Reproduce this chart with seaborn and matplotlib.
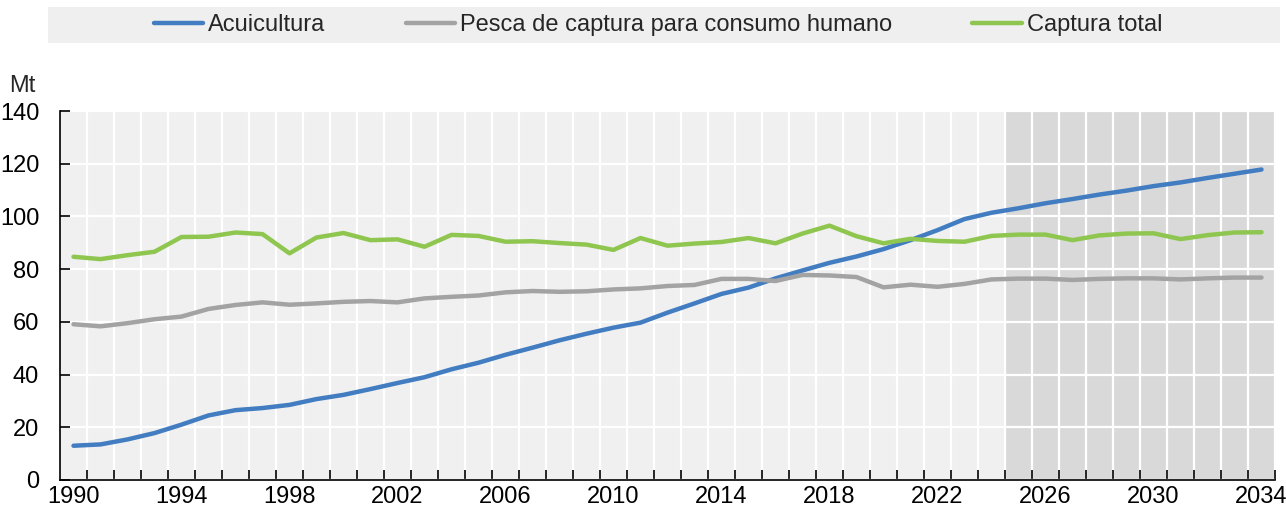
import numpy as np
import pandas as pd
import matplotlib
matplotlib.use("Agg")
import matplotlib.pyplot as plt
from matplotlib.patches import Rectangle
from matplotlib.ticker import MultipleLocator
import seaborn as sns

years = list(range(1990, 2035))

acuicultura = [13.0, 13.5, 15.4, 17.8, 21.0, 24.5, 26.5, 27.3, 28.5, 30.7,
               32.3, 34.5, 36.8, 39.0, 42.0, 44.5, 47.5, 50.2, 53.0, 55.5,
               57.8, 59.7, 63.5, 67.0, 70.6, 73.0, 76.5, 79.5, 82.4, 84.8,
               87.6, 91.0, 94.8, 99.0, 101.4, 103.1, 105.0, 106.6, 108.3, 109.8,
               111.5, 112.9, 114.6, 116.2, 117.8]

pesca_consumo = [59.1, 58.3, 59.5, 61.0, 62.0, 64.9, 66.4, 67.4, 66.5, 67.0,
                 67.6, 67.9, 67.4, 68.9, 69.5, 70.0, 71.2, 71.7, 71.4, 71.6,
                 72.3, 72.7, 73.6, 74.0, 76.3, 76.3, 75.5, 77.8, 77.6, 77.0,
                 73.1, 74.1, 73.3, 74.4, 76.1, 76.4, 76.4, 75.9, 76.3, 76.5,
                 76.5, 76.1, 76.5, 76.8, 76.8]

captura_total = [84.7, 83.8, 85.3, 86.6, 92.2, 92.3, 93.9, 93.3, 86.0, 92.0,
                 93.7, 91.0, 91.3, 88.5, 93.0, 92.6, 90.4, 90.6, 89.9, 89.3,
                 87.3, 91.8, 88.9, 89.7, 90.3, 91.8, 89.8, 93.5, 96.5, 92.5,
                 89.8, 91.5, 90.7, 90.4, 92.6, 93.1, 93.1, 91.0, 92.8, 93.5,
                 93.6, 91.4, 92.9, 93.9, 94.0]

series_names = ["Acuicultura", "Pesca de captura para consumo humano", "Captura total"]
series_colors = ["#427cc1", "#a3a3a3", "#8fc650"]

df = pd.DataFrame({"Año": years * 3,
                   "Mt": acuicultura + pesca_consumo + captura_total,
                   "Serie": np.repeat(series_names, len(years))})

sns.set_theme(style="white")
plt.rcParams["font.family"] = ["Liberation Sans", "DejaVu Sans"]
FS = 17

fig = plt.figure(figsize=(12.86, 5.11), dpi=100)
ax = fig.add_axes([60 / 1286, 1 - 480 / 511, 1215 / 1286, 369 / 511])
ax.set_facecolor("#f0f0f0")

# projection period shading
ax.axvspan(2024.5, 2034.5, color="#d9d9d9", lw=0, zorder=0.2)

sns.lineplot(data=df, x="Año", y="Mt", hue="Serie", hue_order=series_names,
             palette=series_colors, linewidth=3.2, ax=ax, legend=False, zorder=3)

ax.set_xlim(1989.5, 2034.5)
ax.set_ylim(0, 140)
ax.yaxis.set_major_locator(MultipleLocator(20))
ax.set_xticks(years[::4])
ax.set_xticks(np.arange(1990.5, 2034.6, 1), minor=True)
ax.tick_params(axis="x", which="major", length=0, pad=4, labelsize=FS, colors="black")
ax.tick_params(axis="x", which="minor", direction="in", length=7, width=1.2,
               color="black", bottom=True)
ax.tick_params(axis="y", which="major", direction="in", length=7, width=1.2,
               left=True, pad=15, labelsize=FS, colors="black")
ax.set_xlabel("")
ax.set_ylabel("")

ax.set_axisbelow(True)
ax.grid(False)
ax.yaxis.grid(True, which="major", color="white", linewidth=1.6)
ax.xaxis.grid(True, which="minor", color="white", linewidth=1.6)

for side in ["top", "right"]:
    ax.spines[side].set_visible(False)
for side in ["left", "bottom"]:
    ax.spines[side].set_color("black")
    ax.spines[side].set_linewidth(1.2)

fig.text(9 / 1286, 1 - 86 / 511, "Mt", fontsize=FS, va="center", ha="left")

# legend band
fig.patches.append(Rectangle((48 / 1286, 1 - 43 / 511), 1232 / 1286, 36 / 511,
                             transform=fig.transFigure, facecolor="#efefef",
                             edgecolor="none", zorder=0))
handles = [plt.Line2D([], [], color=c, lw=3.2) for c in series_colors]
fig.legend(handles, series_names, loc="center", ncol=3, frameon=False,
           bbox_to_anchor=(658 / 1286, 1 - 25 / 511), fontsize=FS,
           handlelength=2.1, handletextpad=0.2, columnspacing=3.4,
           borderaxespad=0)

fig.savefig("out.png", dpi=100)
